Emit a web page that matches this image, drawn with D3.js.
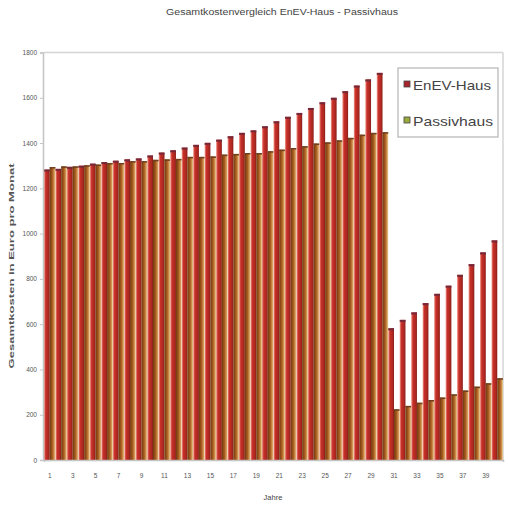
<!DOCTYPE html>
<html><head><meta charset="utf-8">
<script src="https://cdn.jsdelivr.net/npm/d3@7"></script>
<style>
html,body{margin:0;padding:0;background:#fff;}
svg{display:block;font-family:"Liberation Sans",Arial,sans-serif;}
</style></head>
<body>
<svg id="c" width="508" height="508"></svg>
<script>
const years = [1,2,3,4,5,6,7,8,9,10,11,12,13,14,15,16,17,18,19,20,21,22,23,24,25,26,27,28,29,30,31,32,33,34,35,36,37,38,39,40];
const enev = [1283,1286,1295,1300,1309,1316,1322,1328,1332,1345,1358,1368,1380,1392,1401,1415,1430,1445,1456,1474,1496,1516,1533,1555,1580,1600,1629,1654,1681,1710,582,619,652,693,734,770,818,865,917,970];
const passiv = [1294,1297,1297,1302,1305,1312,1312,1320,1320,1326,1328,1330,1339,1339,1341,1349,1352,1356,1356,1364,1371,1378,1386,1398,1403,1412,1423,1437,1445,1448,224,239,253,265,276,290,307,324,339,361];
const yTicks = [0,200,400,600,800,1000,1200,1400,1600,1800];
const xTickLabels = [1,3,5,7,9,11,13,15,17,19,21,23,25,27,29,31,33,35,37,39];
const seriesNames = ["EnEV-Haus","Passivhaus"];
const titleText = "Gesamtkostenvergleich EnEV-Haus - Passivhaus";
const yTitle = "Gesamtkosten in Euro pro Monat";
const xTitle = "Jahre";

const svg = d3.select("#c");
const L=44, R=503, T=52.5, B=460;
const x = d3.scaleBand().domain(years).range([L,R]).padding(0);
const xs = d3.scaleBand().domain([0,1]).range([0,x.bandwidth()]).padding(0);
const y = d3.scaleLinear().domain([0,1800]).range([B,T]);

const defs = svg.append("defs");
const g1 = defs.append("linearGradient").attr("id","gRed").attr("x1","0").attr("x2","1").attr("y1","0").attr("y2","0");
[["0%","#f0a090"],["30%","#c8302a"],["75%","#ac2820"],["100%","#8a1c18"]].forEach(s=>g1.append("stop").attr("offset",s[0]).attr("stop-color",s[1]));
const g2 = defs.append("linearGradient").attr("id","gBrown").attr("x1","0").attr("x2","1").attr("y1","0").attr("y2","0");
[["0%","#6e3a0e"],["45%","#a85a1e"],["80%","#d29a58"],["100%","#f2dcaa"]].forEach(s=>g2.append("stop").attr("offset",s[0]).attr("stop-color",s[1]));

// plot border lines
svg.append("line").attr("x1",L).attr("x2",R).attr("y1",y(1800)).attr("y2",y(1800)).attr("stroke","#d4d4d4").attr("stroke-width",1.5);
svg.append("line").attr("x1",R).attr("x2",R).attr("y1",y(1800)).attr("y2",B).attr("stroke","#d4d4d4").attr("stroke-width",1.5);

// bars
const groups = svg.append("g").selectAll("g").data(years).join("g").attr("transform",d=>`translate(${x(d)},0)`);
groups.append("rect").attr("x",xs(0)).attr("width",xs.bandwidth()).attr("y",(d,i)=>y(enev[i])).attr("height",(d,i)=>B-y(enev[i])).attr("fill","url(#gRed)");
groups.append("rect").attr("x",xs(0)).attr("width",xs.bandwidth()).attr("y",(d,i)=>y(enev[i])).attr("height",2).attr("fill","#74283a");
groups.append("rect").attr("x",xs(1)).attr("width",xs.bandwidth()).attr("y",(d,i)=>y(passiv[i])).attr("height",(d,i)=>B-y(passiv[i])).attr("fill","url(#gBrown)");
groups.append("rect").attr("x",xs(1)).attr("width",xs.bandwidth()).attr("y",(d,i)=>y(passiv[i])).attr("height",1.5).attr("fill","#6e4020");

// y axis
const yAxis = svg.append("g").attr("transform",`translate(${L-1},0)`)
  .call(d3.axisLeft(y).tickValues(yTicks).tickSize(3).tickPadding(3).tickFormat(d3.format("d")));
yAxis.select(".domain").attr("stroke","#c4c4c4").attr("stroke-width",1.5);
yAxis.selectAll(".tick line").attr("stroke","#c4c4c4");
yAxis.selectAll("text").attr("font-size",6.5).attr("fill","#555").attr("font-family","'Liberation Sans',Arial,sans-serif");

// x axis
const xAxis = svg.append("g").attr("transform",`translate(0,${B})`)
  .call(d3.axisBottom(x).tickValues(xTickLabels).tickSize(2).tickPadding(11));
xAxis.select(".domain").attr("stroke","#c4c4c4").attr("stroke-width",1.5);
xAxis.selectAll(".tick line").attr("stroke","#dddddd");
xAxis.selectAll("text").attr("font-size",6.5).attr("fill","#555").attr("font-family","'Liberation Sans',Arial,sans-serif");

// titles
svg.append("text").attr("x",282).attr("y",15).attr("text-anchor","middle").attr("font-size",8.5).attr("fill","#444")
  .attr("textLength",232).attr("lengthAdjust","spacingAndGlyphs").text(titleText);
svg.append("text").attr("x",273).attr("y",500).attr("text-anchor","middle").attr("font-size",7.5).attr("fill","#444").text(xTitle);
svg.append("text").attr("transform","translate(14,266) rotate(-90)").attr("text-anchor","middle").attr("font-size",7).attr("font-weight","bold").attr("fill","#555")
  .attr("textLength",205).attr("lengthAdjust","spacingAndGlyphs").text(yTitle);

// legend
const lg = svg.append("g");
lg.append("rect").attr("x",398).attr("y",68).attr("width",100).attr("height",69).attr("fill","#fff").attr("stroke","#b4b4b4").attr("stroke-width",1.2);
const swatch = ["#a8262c","#9caa3c"];
seriesNames.forEach((n,i)=>{
  const yy = 86 + i*36;
  lg.append("rect").attr("x",404).attr("y",yy-5).attr("width",6).attr("height",6).attr("fill",swatch[i]).attr("stroke","#444").attr("stroke-width",0.8);
  lg.append("text").attr("x",413).attr("y",yy+3.5).attr("font-size",13).attr("fill","#444")
    .attr("textLength",i===0?78:80).attr("lengthAdjust","spacingAndGlyphs").text(n);
});
</script>
</body></html>
